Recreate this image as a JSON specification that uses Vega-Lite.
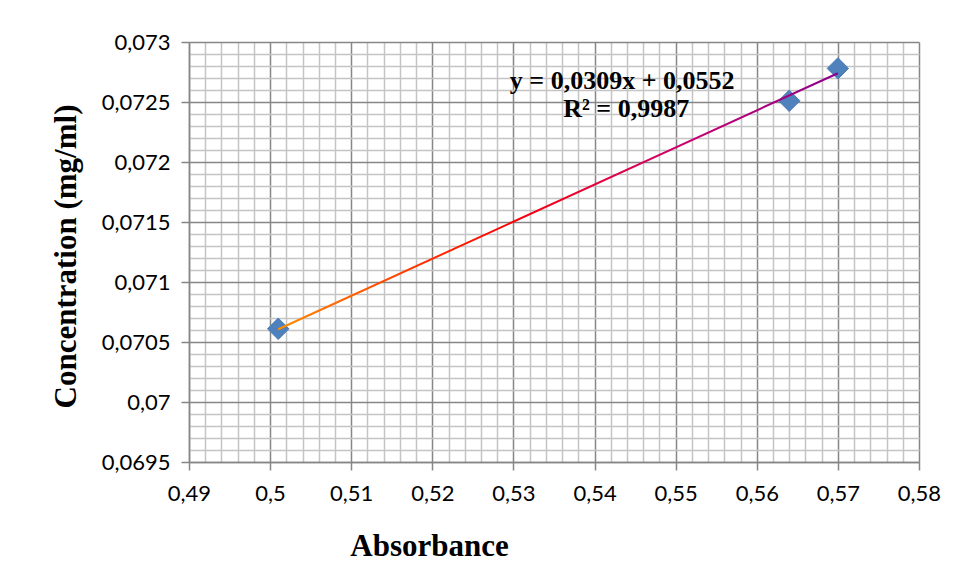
{
  "$schema": "https://vega.github.io/schema/vega-lite/v6.json",
  "width": 730,
  "height": 420,
  "autosize": {"type": "none"},
  "padding": {"left": 189, "top": 42, "right": 40, "bottom": 120},
  "background": "white",
  "config": {"view": {"stroke": null}},
  "datasets": {
    "points": [
      {"absorbance": 0.501, "concentration": 0.07061},
      {"absorbance": 0.564, "concentration": 0.07251},
      {"absorbance": 0.570, "concentration": 0.07278}
    ],
    "labels": [
      {"absorbance": 0.5434, "concentration": 0.072675, "text": "y = 0,0309x + 0,0552"},
      {"absorbance": 0.5439, "concentration": 0.072442, "text": "R² = 0,9987"}
    ]
  },
  "encoding": {
    "x": {
      "field": "absorbance",
      "type": "quantitative",
      "scale": {"domain": [0.49, 0.58], "nice": false, "zero": false},
      "axis": {
        "title": "Absorbance",
        "titleFont": "Liberation Serif",
        "titleFontSize": 31,
        "titleFontWeight": "bold",
        "titleColor": "#000000",
        "titleX": 240,
        "titleY": 84,
        "titleAlign": "center",
        "titleBaseline": "middle",
        "values": [0.49,0.492,0.494,0.496,0.498,0.5,0.502,0.504,0.506,0.508,0.51,0.512,0.514,0.516,0.518,0.52,0.522,0.524,0.526,0.528,0.53,0.532,0.534,0.536,0.538,0.54,0.542,0.544,0.546,0.548,0.55,0.552,0.554,0.556,0.558,0.56,0.562,0.564,0.566,0.568,0.57,0.572,0.574,0.576,0.578,0.58],
        "labelExpr": "abs(datum.value*100 - round(datum.value*100)) < 1e-6 ? replace(format(datum.value, '.2~f'), '.', ',') : ''",
        "labelFont": "Lato",
        "labelFontSize": 22,
        "labelColor": "#000000",
        "labelPadding": 13,
        "labelOverlap": false,
        "labelBound": false,
        "labelFlush": false,
        "domainColor": "#868686",
        "domainWidth": 1.5,
        "tickSize": 8,
        "tickColor": "#868686",
        "tickWidth": 1.5,
        "tickOpacity": {"condition": {"test": "abs(datum.value*100 - round(datum.value*100)) < 1e-6", "value": 1}, "value": 0},
        "grid": true,
        "gridColor": {"condition": {"test": "abs(datum.value*100 - round(datum.value*100)) < 1e-6", "value": "#868686"}, "value": "#c4c4c4"},
        "gridWidth": 1.5,
        "gridOpacity": 1
      }
    },
    "y": {
      "field": "concentration",
      "type": "quantitative",
      "scale": {"domain": [0.0695, 0.073], "nice": false, "zero": false},
      "axis": {
        "title": "Concentration (mg/ml)",
        "titleFont": "Liberation Serif",
        "titleFontSize": 31,
        "titleFontWeight": "bold",
        "titleColor": "#000000",
        "titleX": -123,
        "titleY": 214,
        "titleAngle": -90,
        "titleAlign": "center",
        "titleBaseline": "middle",
        "values": [0.0695,0.0696,0.0697,0.0698,0.0699,0.07,0.0701,0.0702,0.0703,0.0704,0.0705,0.0706,0.0707,0.0708,0.0709,0.071,0.0711,0.0712,0.0713,0.0714,0.0715,0.0716,0.0717,0.0718,0.0719,0.072,0.0721,0.0722,0.0723,0.0724,0.0725,0.0726,0.0727,0.0728,0.0729,0.073],
        "labelExpr": "abs(datum.value*2000 - round(datum.value*2000)) < 1e-6 ? replace(format(datum.value, '.4~f'), '.', ',') : ''",
        "labelFont": "Lato",
        "labelFontSize": 22,
        "labelColor": "#000000",
        "labelPadding": 11,
        "labelOverlap": false,
        "labelBound": false,
        "labelFlush": false,
        "domainColor": "#868686",
        "domainWidth": 1.5,
        "tickSize": 8,
        "tickColor": "#868686",
        "tickWidth": 1.5,
        "tickOpacity": {"condition": {"test": "abs(datum.value*2000 - round(datum.value*2000)) < 1e-6", "value": 1}, "value": 0},
        "grid": true,
        "gridColor": {"condition": {"test": "abs(datum.value*2000 - round(datum.value*2000)) < 1e-6", "value": "#868686"}, "value": "#c4c4c4"},
        "gridWidth": 1.5,
        "gridOpacity": 1
      }
    }
  },
  "layer": [
    {
      "data": {"name": "points"},
      "mark": {"type": "point", "shape": "diamond", "filled": true, "size": 460, "fill": "#4f81bd", "stroke": "#4a7bb7", "strokeWidth": 1, "opacity": 1}
    },
    {
      "data": {"name": "points"},
      "transform": [
        {"regression": "concentration", "on": "absorbance", "extent": [0.501, 0.57]}
      ],
      "mark": {
        "type": "line",
        "strokeWidth": 2,
        "color": {
          "gradient": "linear",
          "x1": 0, "y1": 0, "x2": 1, "y2": 0,
          "stops": [
            {"offset": 0, "color": "#ff8c00"},
            {"offset": 0.4, "color": "#ff0000"},
            {"offset": 0.7, "color": "#d0006a"},
            {"offset": 1, "color": "#8b008b"}
          ]
        }
      }
    },
    {
      "data": {"name": "labels"},
      "mark": {"type": "text", "font": "Liberation Serif", "fontSize": 26, "fontWeight": "bold", "color": "#000000", "align": "center", "baseline": "middle"},
      "encoding": {"text": {"field": "text", "type": "nominal"}}
    }
  ]
}
